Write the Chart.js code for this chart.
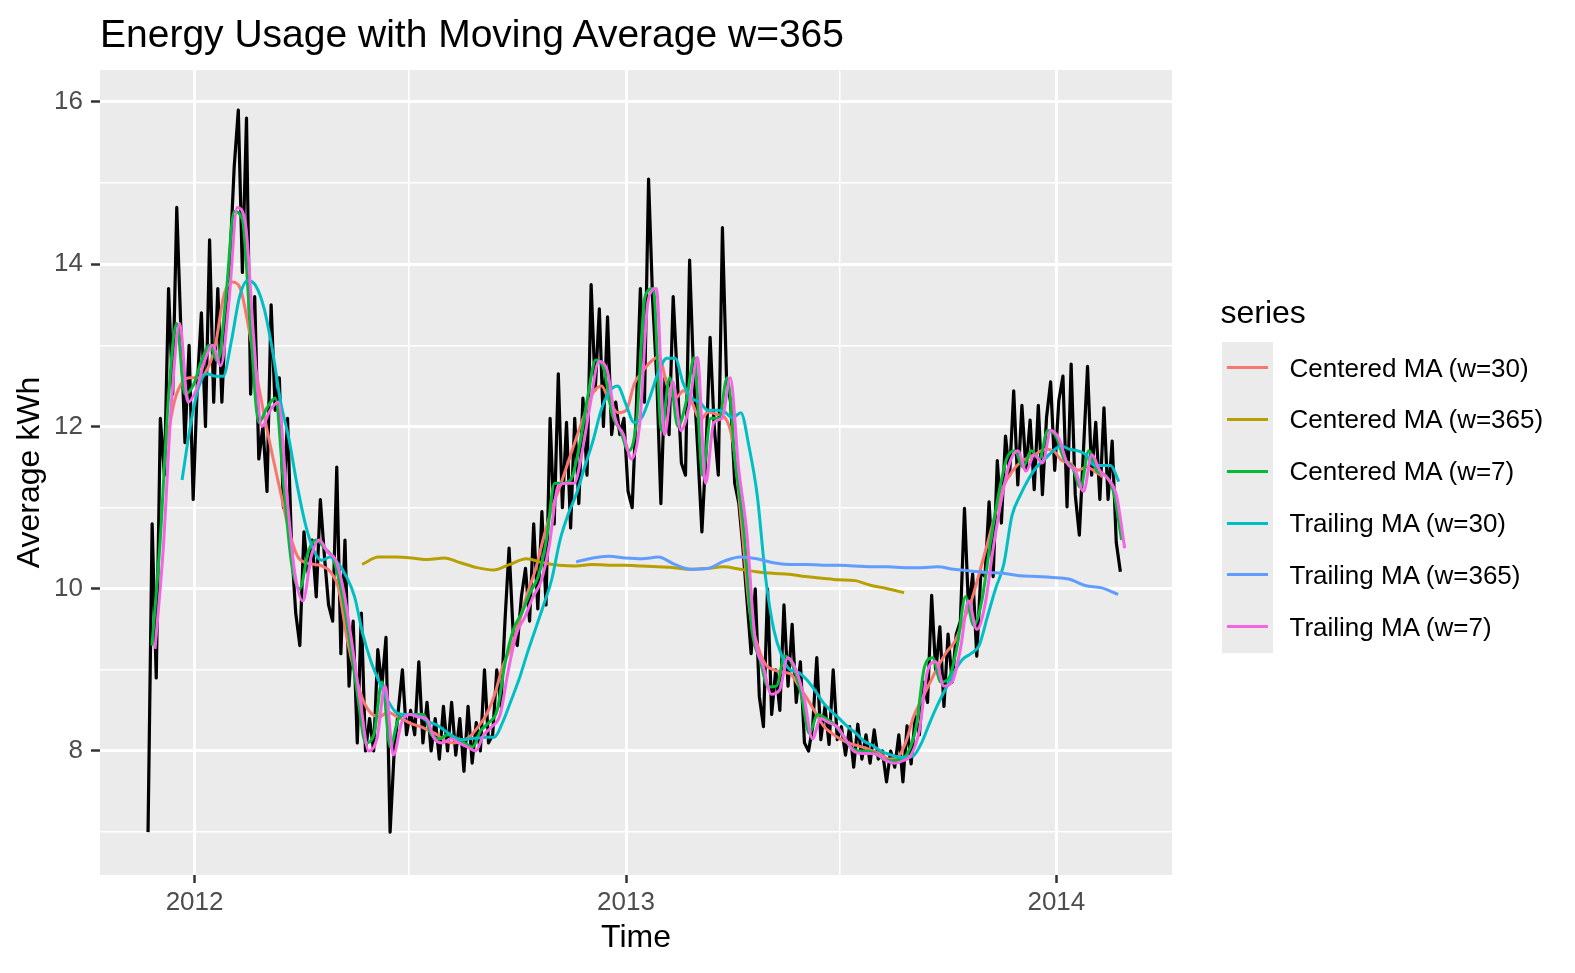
<!DOCTYPE html>
<html>
<head>
<meta charset="utf-8">
<title>Energy Usage with Moving Average w=365</title>
<script src="https://cdn.jsdelivr.net/npm/chart.js"></script>
<style>
  html, body { margin: 0; padding: 0; background: #ffffff; }
  #wrap { position: relative; width: 1575px; height: 973px; overflow: hidden;
          font-family: "Liberation Sans", Arial, sans-serif; }
  #chart { position: absolute; left: 0; top: 0; }
  #title { position: absolute; left: 100px; top: 13.7px; font-size: 39px; line-height: 39px;
           color: #000; white-space: nowrap; }
  #legendTitle { position: absolute; left: 1220.5px; top: 296px; font-size: 32px; line-height: 32px; color: #000; }
  #legendKeys { position: absolute; left: 1221.7px; top: 341.7px; width: 51px; background: #EBEBEB; }
  .row { position: absolute; display: flex; align-items: center; }
  .key { position: absolute; height: 3px; }
  .lab { font-size: 26px; line-height: 26px; color: #000; white-space: nowrap; }
</style>
</head>
<body>
<div id="wrap">
  <canvas id="chart" width="1575" height="973"></canvas>
  <div id="title">Energy Usage with Moving Average w=365</div>
  <div id="legendTitle">series</div>
  <div id="legendKeys"></div>
  <div id="legendRows"></div>
</div>
<script>
// x values are days counted from 2012-01-01; each series is kept as
// first day + sampling step + the values
const yearTicks = [0, 366, 731];
const yearLabels = ['2012', '2013', '2014'];
const halfYearTicks = [182, 547];
const yMajor = [8, 10, 12, 14, 16];
const yMinor = [7, 9, 11, 13, 15];

const seriesNames = [
  'Centered MA (w=30)', 'Centered MA (w=365)', 'Centered MA (w=7)',
  'Trailing MA (w=30)', 'Trailing MA (w=365)', 'Trailing MA (w=7)'
];
const seriesColors = ['#F8766D', '#B79F00', '#00BA38', '#00BFC4', '#619CFF', '#F564E3'];

// daily usage, read about twice a week
const rawStart = -39.45, rawStep = 3.48;
const rawKwh = [
  7.0, 10.8, 8.9, 12.1, 11.4, 13.7, 12.4, 14.7, 13.2, 11.8,
  13.0, 11.1, 12.5, 13.4, 12.0, 14.3, 12.3, 13.7, 12.3, 13.5,
  14.1, 15.2, 15.9, 13.9, 15.8, 12.4, 13.6, 11.6, 12.0, 11.2,
  13.5, 12.2, 12.6, 11.0, 12.1, 10.5, 9.7, 9.3, 10.7, 10.2,
  10.6, 9.9, 11.1, 10.4, 9.8, 9.6, 11.5, 9.2, 10.6, 8.8,
  9.6, 8.1, 9.7, 8.0, 8.4, 8.0, 9.25, 8.8, 9.4, 7.0,
  8.0, 8.5, 9.0, 8.2, 8.5, 8.2, 9.1, 8.1, 8.6, 8.0,
  8.4, 7.9, 8.55, 8.0, 8.6, 7.95, 8.4, 7.75, 8.55, 7.85,
  8.35, 8.0, 9.0, 8.1, 8.2, 9.0, 8.55, 9.6, 10.5, 9.45,
  9.3, 9.9, 10.25, 9.6, 10.8, 9.75, 10.95, 9.8, 12.1, 10.8,
  12.65, 11.0, 12.05, 10.75, 12.1, 11.05, 12.35, 11.4, 13.75, 12.45,
  13.45, 12.0, 13.35, 11.9, 12.3, 11.9, 12.1, 11.2, 11.0, 12.2,
  13.7, 12.3, 15.05, 13.55, 12.6, 11.05, 12.6, 11.9, 13.6, 12.6,
  11.55, 11.4, 14.05, 12.6, 11.7, 10.7, 11.7, 13.1, 12.0, 11.4,
  14.45, 12.6, 12.3, 11.3, 11.05, 10.5, 9.85, 9.2, 10.0, 8.67,
  8.3, 10.0, 8.45, 9.0, 8.5, 9.8, 8.8, 9.56, 8.6, 9.1,
  8.1, 8.0, 8.3, 9.15, 8.14, 8.55, 8.08, 9.0, 8.14, 8.3,
  7.95, 8.3, 7.8, 8.33, 7.9, 8.2, 7.85, 8.26, 7.9, 8.0,
  7.62, 8.0, 7.8, 8.2, 7.62, 8.31, 7.84, 8.43, 8.2, 8.85,
  8.6, 9.92, 8.97, 9.53, 8.55, 9.44, 8.85, 9.44, 9.6, 10.99,
  9.74, 10.18, 9.17, 10.21, 10.15, 11.07, 10.15, 11.58, 10.81, 11.88,
  11.4, 12.44, 11.28, 12.26, 11.46, 12.08, 11.22, 12.26, 11.16, 12.11,
  12.55, 11.46, 12.32, 12.62, 11.01, 12.77, 11.16, 10.66, 11.7, 12.74,
  11.4, 12.05, 11.1, 12.23, 11.1, 11.82, 10.57, 10.21
];

// weekly readings of the 7 and 30 day averages
const weekStep = 6.97;
const c7Start = -36.1;
const centered7 = [
  9.3, 10.6, 12.35, 13.27, 12.4, 12.5, 12.8, 13.0, 12.8, 13.6,
  14.65, 14.55, 13.18, 12.05, 12.23, 12.35, 11.3, 10.3, 10.0, 10.45,
  10.6, 10.5, 10.38, 10.0, 9.4, 8.7, 8.1, 8.2, 8.85, 8.05,
  8.4, 8.45, 8.45, 8.45, 8.2, 8.15, 8.2, 8.15, 8.1, 8.05,
  8.25, 8.35, 8.5, 9.1, 9.5, 9.7, 9.95, 10.15, 10.6, 11.3,
  11.3, 11.35, 11.75, 12.35, 12.82, 12.7, 12.15, 11.95, 11.7, 12.1,
  13.6, 13.7, 11.95, 12.6, 12.0, 12.3, 12.85, 11.4, 12.1, 12.1,
  12.6, 11.55, 10.75, 9.5, 9.12, 8.79, 8.8, 9.17, 9.05, 8.7,
  8.22, 8.45, 8.4, 8.33, 8.2, 8.05, 8.0, 8.0, 7.97, 7.9,
  7.88, 7.9, 7.98, 8.3, 9.03, 9.15, 8.85, 8.9, 9.3, 9.9,
  9.55, 9.86, 10.55, 11.15, 11.6, 11.7, 11.5, 11.7, 11.6, 11.95,
  11.88, 11.6, 11.5, 11.25, 11.7, 11.45, 11.4, 11.2, 10.6
];
const t7Start = -33.5;
const trailing7 = [
  9.26, 10.5, 12.3, 13.27, 12.3, 12.45, 12.8, 13.0, 12.75, 13.55,
  14.7, 14.5, 13.1, 12.0, 12.2, 12.3, 11.2, 10.2, 9.85, 10.4,
  10.6, 10.45, 10.35, 9.95, 9.3, 8.6, 8.0, 8.15, 8.8, 7.95,
  8.35, 8.45, 8.42, 8.4, 8.15, 8.1, 8.15, 8.1, 8.05, 8.0,
  8.2, 8.3, 8.45, 9.0, 9.45, 9.65, 9.9, 10.1, 10.55, 11.25,
  11.3, 11.3, 11.7, 12.3, 12.8, 12.7, 12.1, 11.9, 11.6, 12.05,
  13.55, 13.7, 11.9, 12.55, 11.95, 12.25, 12.85, 11.3, 12.05, 12.1,
  12.6, 11.5, 10.7, 9.4, 9.05, 8.7, 8.75, 9.15, 9.0, 8.65,
  8.15, 8.4, 8.35, 8.3, 8.15, 8.0, 7.97, 7.97, 7.95, 7.88,
  7.85, 7.88, 7.95, 8.25, 8.98, 9.1, 8.8, 8.85, 9.25, 9.85,
  9.5, 9.8, 10.5, 11.1, 11.55, 11.7, 11.45, 11.65, 11.55, 11.95,
  11.85, 11.55, 11.45, 11.2, 11.65, 11.45, 11.35, 11.15, 10.5
];
const c30Start = -24.2;
const centered30 = [
  11.75, 12.3, 12.55, 12.6, 12.6, 12.7, 13.0, 13.6, 13.78, 13.71,
  13.25, 12.65, 12.11, 11.62, 11.16, 10.7, 10.4, 10.32, 10.3, 10.28,
  10.21, 10.0, 9.4, 8.95, 8.62, 8.46, 8.42, 8.48, 8.43, 8.38,
  8.33, 8.3, 8.25, 8.2, 8.12, 8.1, 8.12, 8.18, 8.3, 8.45,
  8.7, 9.05, 9.28, 9.6, 9.95, 10.25, 10.65, 11.0, 11.28, 11.58,
  11.88, 12.17, 12.42, 12.5, 12.3, 12.17, 12.2, 12.53, 12.68, 12.8,
  12.86, 12.5, 12.35, 12.44, 12.3, 12.08, 12.18, 12.15, 12.11, 11.8,
  10.85, 9.75, 9.3, 9.06, 9.0, 8.97, 8.95, 8.8, 8.65, 8.48,
  8.31, 8.22, 8.15, 8.1, 8.07, 8.04, 8.0, 7.96, 7.9, 7.92,
  8.1, 8.43, 8.64, 8.85, 9.05, 9.22, 9.35, 9.6, 9.85, 10.2,
  10.57, 10.95, 11.28, 11.45, 11.56, 11.62, 11.67, 11.72, 11.7, 11.58,
  11.55, 11.46, 11.5, 11.45, 11.38
];
const t30Start = -10.6;
const trailing30 = [
  11.34, 12.0, 12.48, 12.65, 12.62, 12.62, 13.05, 13.6, 13.8, 13.73,
  13.45, 12.94, 12.3, 11.85, 11.28, 10.8, 10.48, 10.35, 10.39, 10.31,
  10.15, 9.9, 9.44, 9.1, 8.85, 8.63, 8.48, 8.45, 8.45, 8.42,
  8.36, 8.32, 8.25, 8.18, 8.14, 8.15, 8.16, 8.17, 8.17, 8.35,
  8.61, 8.88, 9.2, 9.5, 9.8, 10.12, 10.6, 10.92, 11.17, 11.5,
  11.82, 12.2, 12.43, 12.5, 12.28, 12.05, 12.12, 12.38, 12.68, 12.84,
  12.84, 12.53, 12.35, 12.3, 12.2, 12.2, 12.18, 12.11, 12.17, 11.75,
  11.15, 10.15, 9.5, 9.17, 9.0, 8.97, 8.88, 8.75, 8.6, 8.49,
  8.4, 8.3, 8.22, 8.12, 8.07, 8.0, 7.96, 7.93, 7.92, 7.94,
  8.1, 8.35, 8.58, 8.78, 8.98, 9.13, 9.2, 9.3, 9.65, 10.0,
  10.3, 10.9, 11.15, 11.35, 11.5, 11.6, 11.7, 11.76, 11.72, 11.7,
  11.65, 11.52, 11.52, 11.52, 11.32
];

// the yearly averages, read every two weeks
const fortnightStep = 13.93;
const c365Start = 142.1;
const centered365 = [
  10.3, 10.39, 10.39, 10.38, 10.36, 10.38, 10.32, 10.26, 10.23, 10.3,
  10.37, 10.32, 10.29, 10.28, 10.3, 10.29, 10.29, 10.28, 10.27, 10.26,
  10.24, 10.25, 10.27, 10.24, 10.21, 10.19, 10.18, 10.15, 10.13, 10.11,
  10.1, 10.04, 10.0, 9.95
];
const t365Start = 323.7;
const trailing365 = [
  10.33, 10.38, 10.4, 10.38, 10.37, 10.39, 10.3, 10.24, 10.25, 10.34,
  10.39, 10.37, 10.32, 10.3, 10.3, 10.29, 10.29, 10.28, 10.27, 10.27,
  10.26, 10.26, 10.27, 10.24, 10.22, 10.2, 10.19, 10.16, 10.15, 10.14,
  10.12, 10.04, 10.01, 9.93
];

function toPoints(start, step, values) {
  return values.map((v, i) => ({ x: start + i * step, y: v }));
}

// same order as the legend; "order" puts the raw line at the bottom and
// the later groups on top, as ggplot draws them
const maSeries = [
  toPoints(c30Start, weekStep, centered30),
  toPoints(c365Start, fortnightStep, centered365),
  toPoints(c7Start, weekStep, centered7),
  toPoints(t30Start, weekStep, trailing30),
  toPoints(t365Start, fortnightStep, trailing365),
  toPoints(t7Start, weekStep, trailing7)
];

const datasets = [{
  label: 'Energy usage',
  data: toPoints(rawStart, rawStep, rawKwh),
  borderColor: '#000000',
  borderWidth: 3.2,
  tension: 0,
  order: 10
}].concat(maSeries.map((pts, i) => ({
  label: seriesNames[i],
  data: pts,
  borderColor: seriesColors[i],
  borderWidth: 3,
  cubicInterpolationMode: 'monotone',
  order: 6 - i
})));

const panelBackground = {
  id: 'panelBackground',
  beforeDraw(chart) {
    const { ctx, chartArea } = chart;
    ctx.save();
    ctx.fillStyle = '#EBEBEB';
    ctx.fillRect(chartArea.left, chartArea.top,
      chartArea.right - chartArea.left, chartArea.bottom - chartArea.top);
    ctx.restore();
  }
};

Chart.defaults.font.family = '"Liberation Sans", Arial, sans-serif';

const isYearTick = v => yearTicks.includes(v);
const isMajorY = v => yMajor.includes(v);

new Chart(document.getElementById('chart'), {
  type: 'line',
  data: { datasets },
  plugins: [panelBackground],
  options: {
    responsive: false,
    animation: false,
    devicePixelRatio: 1,
    layout: { padding: { top: 70, right: 403, left: 0, bottom: 0 } },
    elements: { point: { radius: 0 }, line: { borderJoinStyle: 'round', borderCapStyle: 'butt' } },
    plugins: { legend: { display: false }, tooltip: { enabled: false } },
    scales: {
      x: {
        type: 'linear',
        min: -80.2,
        max: 829.1,
        afterBuildTicks: s => {
          s.ticks = yearTicks.concat(halfYearTicks).sort((a, b) => a - b).map(v => ({ value: v }));
        },
        afterFit: s => { s.height = 98; },
        border: { display: false },
        grid: {
          color: '#FFFFFF',
          lineWidth: c => (c.tick && isYearTick(c.tick.value)) ? 3 : 1.5,
          drawTicks: true,
          tickLength: 8,
          tickWidth: 2.5,
          tickColor: c => (c.tick && isYearTick(c.tick.value)) ? '#333333' : 'rgba(0,0,0,0)'
        },
        ticks: {
          autoSkip: false,
          maxRotation: 0,
          padding: 4,
          color: '#4D4D4D',
          font: { size: 26 },
          callback: v => { const i = yearTicks.indexOf(v); return i >= 0 ? yearLabels[i] : ''; }
        },
        title: {
          display: true,
          text: 'Time',
          color: '#000000',
          font: { size: 32 },
          padding: { top: 0, bottom: 16 }
        }
      },
      y: {
        min: 6.4715,
        max: 16.394,
        afterBuildTicks: s => {
          s.ticks = yMinor.concat(yMajor).sort((a, b) => a - b).map(v => ({ value: v }));
        },
        afterFit: s => { s.width = 100; },
        border: { display: false },
        grid: {
          color: '#FFFFFF',
          lineWidth: c => (c.tick && isMajorY(c.tick.value)) ? 3 : 1.5,
          drawTicks: true,
          tickLength: 9,
          tickWidth: 2.5,
          tickColor: c => (c.tick && isMajorY(c.tick.value)) ? '#333333' : 'rgba(0,0,0,0)'
        },
        ticks: {
          padding: 8,
          color: '#4D4D4D',
          font: { size: 26 },
          callback: v => isMajorY(v) ? String(v) : ''
        },
        title: {
          display: true,
          text: 'Average kWh',
          color: '#000000',
          font: { size: 32 },
          padding: { top: 11, bottom: 0 }
        }
      }
    }
  }
});

// legend in ggplot's layout: grey key column, one row per series
const rowTop = 341.7, rowHeight = 51.83;
document.getElementById('legendKeys').style.height = (rowHeight * seriesNames.length) + 'px';
const rows = document.getElementById('legendRows');
seriesNames.forEach((name, i) => {
  const top = rowTop + i * rowHeight;
  const key = document.createElement('div');
  key.className = 'key';
  key.style.left = '1226.7px';
  key.style.width = '41px';
  key.style.top = (top + rowHeight / 2 - 1.5) + 'px';
  key.style.background = seriesColors[i];
  rows.appendChild(key);

  const row = document.createElement('div');
  row.className = 'row';
  row.style.left = '1289.5px';
  row.style.top = top + 'px';
  row.style.height = rowHeight + 'px';
  const lab = document.createElement('span');
  lab.className = 'lab';
  lab.textContent = name;
  row.appendChild(lab);
  rows.appendChild(row);
});
</script>
</body>
</html>
